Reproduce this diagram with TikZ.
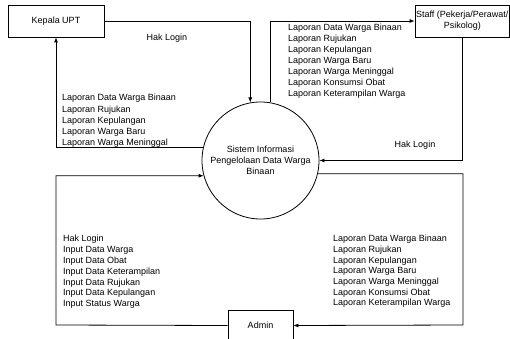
\documentclass[tikz,border=0pt]{standalone}
\usepackage{fontspec}
\setmainfont{Liberation Sans}
\usetikzlibrary{arrows.meta}
\begin{document}
\begin{tikzpicture}[x=1pt,y=-1pt,
  every node/.style={font=\fontsize{9}{11}\selectfont},
  entity/.style={draw, line width=0.8pt, rectangle, inner sep=0pt, align=center},
  process/.style={draw, line width=0.8pt, circle, minimum size=117pt, inner sep=0pt, align=center},
  flow/.style={draw, line width=0.8pt, -{Latex[length=5pt,width=4pt]}},
  lbl/.style={inner sep=0pt, anchor=west, align=left},
  lblc/.style={inner sep=0pt, anchor=center},
]
\useasboundingbox (0,0) rectangle (510,339);

% entities and process
\node[entity, minimum width=96pt, minimum height=32pt] (kepala) at (56,21) {Kepala UPT};
\node[entity, minimum width=94.5pt, minimum height=32pt] (staf) at (462.25,21) {Staff (Pekerja/Perawat/\\Psikolog)};
\node[entity, minimum width=65pt, minimum height=31pt] (admin) at (260.5,325.5) {Admin};
\node[process] (circ) at (260.5,160.5) {Sistem Informasi\\Pengelolaan Data Warga\\Binaan};

\coordinate (rcorner) at (463,325);
\coordinate (lcorner) at (56,325);

% flows
\draw[flow] (kepala.east) -| (circ.100);
\draw[flow] (circ.167.7) -| (kepala.south);
\draw[flow] (circ.80.6) |- (staf.west);
\draw[flow] (staf.south) |- (circ.east);
\draw[flow] (circ.-13.3) -| (rcorner) -- (admin.east);
\draw[flow] (admin.west) -- (lcorner) |- (circ.195.4);

% labels
\node[lblc] (l1) at (167,38) {Hak Login};
\node[lblc] (l2) at (415,145) {Hak Login};
\node[lbl, font={\fontsize{9}{11.25}\selectfont}] (l3) at (62,121) {Laporan Data Warga Binaan\\Laporan Rujukan\\Laporan Kepulangan\\Laporan Warga Baru\\Laporan Warga Meninggal};
\node[lbl, font={\fontsize{9}{11}\selectfont}] (l4) at (288,61.5) {Laporan Data Warga Binaan\\Laporan Rujukan\\Laporan Kepulangan\\Laporan Warga Baru\\Laporan Warga Meninggal\\Laporan Konsumsi Obat\\Laporan Keterampilan Warga};
\node[lbl, font={\fontsize{9}{10.8}\selectfont}] (l5) at (63,272) {Hak Login\\Input Data Warga\\Input Data Obat\\Input Data Keterampilan\\Input Data Rujukan\\Input Data Kepulangan\\Input Status Warga};
\node[lbl, font={\fontsize{9}{10.7}\selectfont}] (l6) at (333,271.5) {Laporan Data Warga Binaan\\Laporan Rujukan\\Laporan Kepulangan\\Laporan Warga Baru\\Laporan Warga Meninggal\\Laporan Konsumsi Obat\\Laporan Keterampilan Warga};
\end{tikzpicture}
\end{document}
